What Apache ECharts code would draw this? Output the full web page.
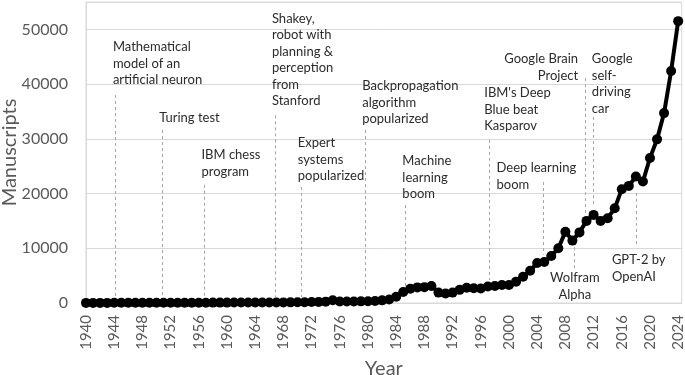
<!DOCTYPE html>
<html>
<head>
<meta charset="utf-8">
<script src="https://cdn.jsdelivr.net/npm/echarts@6/dist/echarts.min.js"></script>
<style>
html,body{margin:0;padding:0;background:#fff;}
#chart{width:685px;height:375px;}
</style>
</head>
<body>
<div id="chart"></div>
<script>
// ---- data ----
const years = [];
for (let y = 1940; y <= 2024; y++) years.push(y);
const manuscripts = [
  20,20,20,20,30,30,30,30,40,40,
  40,50,50,50,50,60,60,60,70,70,
  70,80,80,80,90,90,100,100,110,120,
  130,150,180,200,250,500,280,280,280,300,
  330,380,480,650,1150,2000,2600,2850,2900,3100,
  1900,1750,1900,2400,2800,2700,2650,3000,3100,3300,
  3300,3900,4800,5900,7300,7500,8600,10000,13000,11400,
  12900,15000,16100,15000,15500,17300,20800,21400,23100,22200,
  26500,29900,34700,42400,51500
];
const yTicks = [0, 10000, 20000, 30000, 40000, 50000];

// annotation events
const eventYears = [1944.1, 1950.8, 1956.8, 1966.8, 1970.6, 1979.6, 1985.3, 1997.2, 2004.9, 2009.2, 2010.8, 2011.9, 2018.0];
const eventLabels = [
  "Mathematical\nmodel of an\nartificial neuron",
  "Turing test",
  "IBM chess\nprogram",
  "Shakey,\nrobot with\nplanning &\nperception\nfrom\nStanford",
  "Expert\nsystems\npopularized",
  "Backpropagation\nalgorithm\npopularized",
  "Machine\nlearning\nboom",
  "IBM's Deep\nBlue beat\nKasparov",
  "Deep learning\nboom",
  "Wolfram\nAlpha",
  "Google Brain\nProject",
  "Google\nself-\ndriving\ncar",
  "GPT-2 by\nOpenAI"
];
// layout for annotations (value units for vertical, px for horizontal offset)
const leaderTop    = [38000, 31600, 21600, 34300, 21200, 31600, 17900, 29800, 22100, 10200, 41100, 34000, 20100];
const leaderBottom = [1100, 1100, 1100, 1100, 1100, 2400, 2400, 4200, 8800, 6400, 16400, 17900, 10600];
const labelFirstY  = [46770, 33800, 27040, 52015, 29230, 39650, 25940, 38370, 24660, 4570, 44580, 44580, 7860];
const labelDx      = [-2, -3, -3, -3, -4, -3, -3, -5, -47, 1, -7, -1, -24];
const labelAlign   = ['left','left','left','left','left','left','left','left','left','center','right','left','left'];

const FONT = 'Lato, "Liberation Sans", sans-serif';
const chart = echarts.init(document.getElementById('chart'));

const markData = eventYears.map((x, i) => [
  { coord: [x, leaderTop[i]] },
  { coord: [x, leaderBottom[i]] }
]);

chart.setOption({
  animation: false,
  backgroundColor: '#fff',
  grid: { left: 86, top: 2, width: 595.7, height: 301, show: true, borderColor: '#d9d9d9', borderWidth: 1,
    containLabel: false, outerBoundsMode: 'none' },
  xAxis: {
    type: 'value', min: 1940, max: 2024.5, interval: 4,
    name: 'Year', nameLocation: 'middle', nameGap: 56, nameMoveOverlap: false,
    nameTextStyle: { color: '#595959', fontSize: 20, fontFamily: FONT },
    axisLine: { show: true, lineStyle: { color: '#d9d9d9' } },
    axisTick: { show: false },
    splitLine: { show: false },
    axisLabel: { rotate: 90, margin: 12, color: '#595959', fontSize: 15, fontFamily: FONT, showMaxLabel: false,
      formatter: v => String(v) }
  },
  yAxis: {
    type: 'value', min: 0, max: 55000, interval: 10000,
    name: 'Manuscripts', nameLocation: 'middle', nameGap: 66, nameMoveOverlap: false,
    nameTextStyle: { color: '#595959', fontSize: 20, fontFamily: FONT },
    axisLine: { show: true, lineStyle: { color: '#d9d9d9' } },
    axisTick: { show: false },
    splitLine: { show: true, lineStyle: { color: '#d9d9d9', width: 1 } },
    axisLabel: { margin: 18, color: '#595959', fontSize: 16, fontFamily: FONT, showMaxLabel: false,
      formatter: v => (yTicks.indexOf(v) >= 0 ? String(v) : '') }
  },
  series: [{
    type: 'line',
    data: years.map((y, i) => [y, manuscripts[i]]),
    symbol: 'circle', symbolSize: 10,
    lineStyle: { color: '#000', width: 4 },
    itemStyle: { color: '#000' },
    z: 5,
    markLine: {
      silent: true, symbol: 'none', animation: false,
      label: { show: false },
      lineStyle: { color: '#a6a6a6', type: [3, 3], width: 1 },
      data: markData,
      z: 2
    }
  }]
});

const graphics = eventYears.map((x, i) => {
  const p = chart.convertToPixel({ gridIndex: 0 }, [x, labelFirstY[i]]);
  return {
    type: 'text',
    x: p[0] + labelDx[i],
    y: p[1] - 8.25,
    z: 10,
    style: {
      text: eventLabels[i],
      fill: '#2b2b2b',
      font: '13px ' + FONT,
      lineHeight: 16.5,
      textAlign: labelAlign[i],
      textVerticalAlign: 'top'
    }
  };
});
chart.setOption({ graphic: graphics });
</script>
</body>
</html>
